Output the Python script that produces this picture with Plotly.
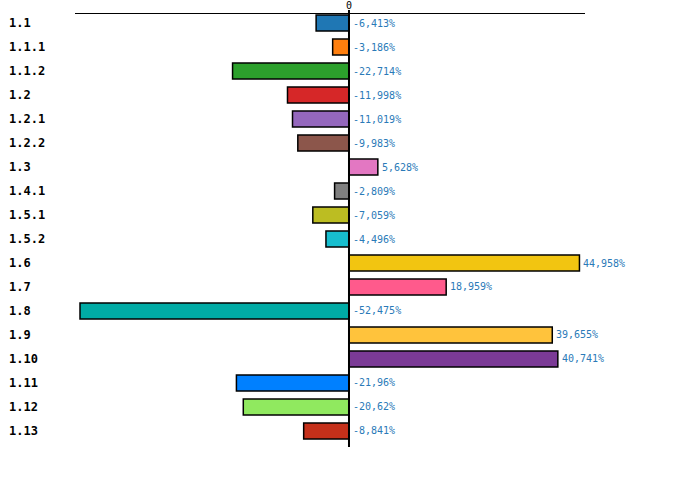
import plotly.graph_objects as go

categories = ["1.1", "1.1.1", "1.1.2", "1.2", "1.2.1", "1.2.2", "1.3", "1.4.1", "1.5.1",
              "1.5.2", "1.6", "1.7", "1.8", "1.9", "1.10", "1.11", "1.12", "1.13"]
values = [-6.413, -3.186, -22.714, -11.998, -11.019, -9.983, 5.628, -2.809, -7.059,
          -4.496, 44.958, 18.959, -52.475, 39.655, 40.741, -21.96, -20.62, -8.841]
colors = ["#1f77b4", "#ff7f0e", "#2ca02c", "#d62728", "#9467bd", "#8c564b", "#e377c2",
          "#7f7f7f", "#bcbd22", "#17becf", "#f2c511", "#ff5a8c", "#00aba5", "#ffc33c",
          "#7b3a96", "#0080ff", "#90e95f", "#c5301a"]
x_ticks = [0]
x_tick_labels = ["0"]


def fmt(v):
    s = f"{v:.3f}".rstrip("0").rstrip(".")
    return s.replace(".", ",") + "%"


labels = [fmt(v) for v in values]

fig = go.Figure()
fig.add_trace(go.Bar(
    y=categories, x=values, orientation="h",
    marker=dict(color=colors, line=dict(color="black", width=1.5)),
    width=0.66, hoverinfo="skip", showlegend=False,
))

for i, (c, v, t) in enumerate(zip(categories, values, labels)):
    fig.add_annotation(x=-0.133, xref="paper", y=i, yref="y", text=f"<b>{c}</b>",
                       showarrow=False, xanchor="left", yanchor="middle",
                       font=dict(family="DejaVu Sans Mono", size=12, color="black"))
    fig.add_annotation(x=max(v, 0), xref="x", y=i, yref="y", text=t,
                       showarrow=False, xanchor="left", yanchor="middle", xshift=2,
                       font=dict(family="DejaVu Sans Mono", size=10, color="#2a7ab8"))

fig.add_shape(type="line", xref="x", yref="paper", x0=0, x1=0, y0=0, y1=1.0095,
              line=dict(color="black", width=2))

fig.update_layout(
    width=700, height=477,
    margin=dict(l=75, r=115, t=14, b=30),
    plot_bgcolor="white", paper_bgcolor="white",
    xaxis=dict(side="top", range=[-53.45, 46.04], tickvals=x_ticks, ticktext=x_tick_labels,
               showgrid=False, zeroline=False, showline=True, linecolor="black", linewidth=1,
               ticks="", automargin=False,
               tickfont=dict(family="DejaVu Sans Mono", size=10, color="black")),
    yaxis=dict(type="category", categoryorder="array", categoryarray=categories,
               range=[17.667, -0.375], showticklabels=False, showgrid=False, zeroline=False,
               showline=False, ticks="", automargin=False),
)

fig.write_html("out.html", config={"displayModeBar": False},
               post_script="document.body.style.margin='0';document.body.style.overflow='hidden';")
